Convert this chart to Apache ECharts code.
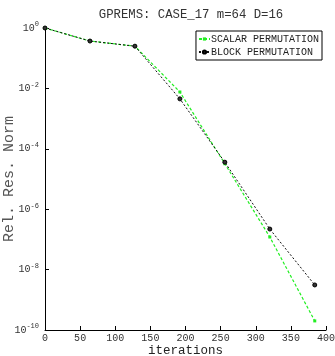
<!DOCTYPE html>
<html>
<head>
<meta charset="utf-8">
<script src="https://cdn.jsdelivr.net/npm/echarts@6/dist/echarts.min.js"></script>
<style>
  html, body { margin: 0; padding: 0; background: #fff; }
  #chart { width: 335px; height: 356px; }
</style>
</head>
<body>
<div id="chart"></div>
<script>
// iterations at each restart
const iterations = [0, 64, 128, 192, 256, 320, 384]
// relative residual norm
const scalarValues = [1, 0.37, 0.25, 0.0076, 3.2e-5, 1.2e-7, 2e-10]
const blockValues = [1, 0.37, 0.25, 0.0045, 3.6e-5, 2.2e-7, 3.1e-9]

const font = 'Liberation Mono'

const option = {
  animation: false,
  title: {
    text: 'GPREMS: CASE_17 m=64 D=16',
    left: 186,
    textAlign: 'center',
    top: 4,
    textStyle: { fontFamily: font, fontSize: 12.3, fontWeight: 'normal', color: '#333' }
  },
  legend: {
    right: 13,
    top: 31,
    orient: 'vertical',
    itemGap: 3,
    itemWidth: 11,
    itemHeight: 4,
    padding: [3, 3, 3, 2],
    borderColor: '#000',
    borderWidth: 1,
    textStyle: { fontFamily: font, fontSize: 10, color: '#222', padding: [0, 0, 0, -4] },
    data: ['SCALAR PERMUTATION', 'BLOCK PERMUTATION']
  },
  grid: { left: 45, right: 9, top: 28, bottom: 26, outerBoundsMode: 'none', containLabel: false },
  xAxis: {
    type: 'value',
    min: 0,
    max: 400,
    interval: 50,
    name: 'iterations',
    nameLocation: 'middle',
    nameGap: 14,
    nameMoveOverlap: false,
    nameTextStyle: { fontFamily: font, fontSize: 12.5, color: '#222' },
    axisLine: { lineStyle: { color: '#000' } },
    axisTick: { inside: true, length: 4, lineStyle: { color: '#000' } },
    axisLabel: { fontFamily: font, fontSize: 10, color: '#333', margin: 3 },
    splitLine: { show: false }
  },
  yAxis: {
    type: 'log',
    logBase: 10,
    min: 1e-10,
    max: 1,
    interval: 2,
    name: 'Rel. Res. Norm',
    nameLocation: 'middle',
    nameGap: 28,
    nameMoveOverlap: false,
    nameTextStyle: { fontFamily: font, fontSize: 15, color: '#555' },
    axisLine: { show: true, lineStyle: { color: '#000' } },
    axisTick: { show: true, inside: true, length: 4, lineStyle: { color: '#000' } },
    axisLabel: {
      margin: 6,
      formatter: v => '{b|10}{s|' + Math.round(Math.log10(v)) + '}',
      rich: {
        b: { fontFamily: font, fontSize: 10, color: '#333' },
        s: { fontFamily: font, fontSize: 7, color: '#333', verticalAlign: 'top', padding: [0, 0, 7, 0] }
      }
    },
    splitLine: { show: false }
  },
  series: [
    {
      name: 'SCALAR PERMUTATION',
      type: 'line',
      data: iterations.map((x, i) => [x, scalarValues[i]]),
      symbol: 'rect',
      symbolSize: 3,
      itemStyle: { color: '#22ee22' },
      lineStyle: { color: '#22ee22', width: 1.2, type: [3, 2] },
      z: 2
    },
    {
      name: 'BLOCK PERMUTATION',
      type: 'line',
      data: iterations.map((x, i) => [x, blockValues[i]]),
      symbol: 'circle',
      symbolSize: 4,
      itemStyle: { color: '#333', borderColor: '#000', borderWidth: 1 },
      lineStyle: { color: '#111', width: 1, type: [2, 2] },
      z: 3
    }
  ]
}

const chart = echarts.init(document.getElementById('chart'))
chart.setOption(option)
</script>
</body>
</html>
